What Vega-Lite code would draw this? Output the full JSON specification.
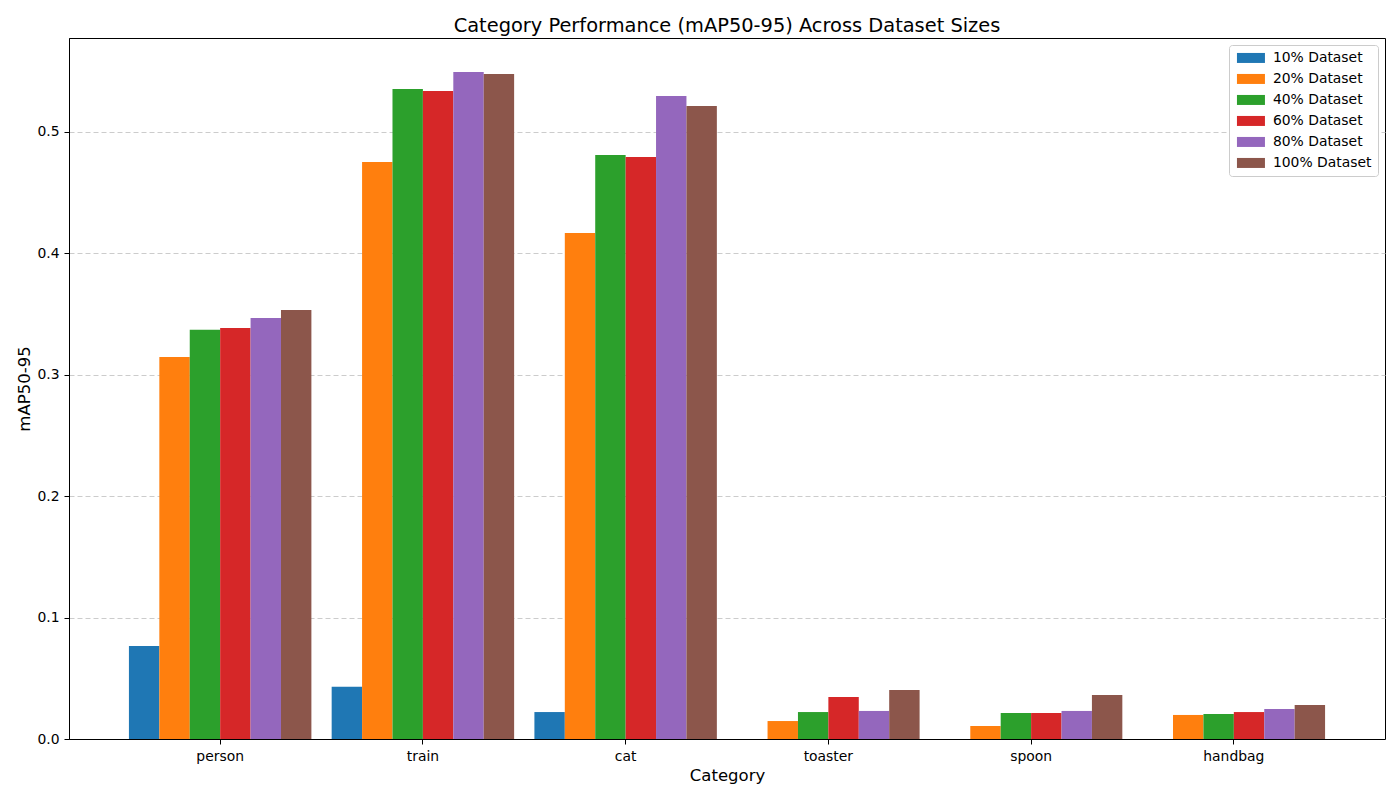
{
  "$schema": "https://vega.github.io/schema/vega-lite/v6.json",
  "width": 1316,
  "height": 701,
  "autosize": {"type": "none"},
  "padding": {"left": 69, "top": 38, "right": 15, "bottom": 61},
  "background": "white",
  "title": {
    "text": "Category Performance (mAP50-95) Across Dataset Sizes",
    "font": "DejaVu Sans",
    "fontSize": 19.4,
    "fontWeight": "normal",
    "color": "black",
    "offset": 2
  },
  "config": {
    "font": "DejaVu Sans",
    "view": {"stroke": "black", "strokeWidth": 1}
  },
  "data": {
    "values": [
      {"category": "person", "dataset": "10% Dataset", "map": 0.0766},
      {"category": "person", "dataset": "20% Dataset", "map": 0.3147},
      {"category": "person", "dataset": "40% Dataset", "map": 0.3370},
      {"category": "person", "dataset": "60% Dataset", "map": 0.3386},
      {"category": "person", "dataset": "80% Dataset", "map": 0.3468},
      {"category": "person", "dataset": "100% Dataset", "map": 0.3534},
      {"category": "train", "dataset": "10% Dataset", "map": 0.0430},
      {"category": "train", "dataset": "20% Dataset", "map": 0.4753},
      {"category": "train", "dataset": "40% Dataset", "map": 0.5354},
      {"category": "train", "dataset": "60% Dataset", "map": 0.5338},
      {"category": "train", "dataset": "80% Dataset", "map": 0.5494},
      {"category": "train", "dataset": "100% Dataset", "map": 0.5478},
      {"category": "cat", "dataset": "10% Dataset", "map": 0.0222},
      {"category": "cat", "dataset": "20% Dataset", "map": 0.4168},
      {"category": "cat", "dataset": "40% Dataset", "map": 0.4810},
      {"category": "cat", "dataset": "60% Dataset", "map": 0.4794},
      {"category": "cat", "dataset": "80% Dataset", "map": 0.5297},
      {"category": "cat", "dataset": "100% Dataset", "map": 0.5214},
      {"category": "toaster", "dataset": "10% Dataset", "map": 0.0},
      {"category": "toaster", "dataset": "20% Dataset", "map": 0.0148},
      {"category": "toaster", "dataset": "40% Dataset", "map": 0.0222},
      {"category": "toaster", "dataset": "60% Dataset", "map": 0.0346},
      {"category": "toaster", "dataset": "80% Dataset", "map": 0.0231},
      {"category": "toaster", "dataset": "100% Dataset", "map": 0.0404},
      {"category": "spoon", "dataset": "10% Dataset", "map": 0.0},
      {"category": "spoon", "dataset": "20% Dataset", "map": 0.0107},
      {"category": "spoon", "dataset": "40% Dataset", "map": 0.0214},
      {"category": "spoon", "dataset": "60% Dataset", "map": 0.0214},
      {"category": "spoon", "dataset": "80% Dataset", "map": 0.0231},
      {"category": "spoon", "dataset": "100% Dataset", "map": 0.0362},
      {"category": "handbag", "dataset": "10% Dataset", "map": 0.0},
      {"category": "handbag", "dataset": "20% Dataset", "map": 0.0198},
      {"category": "handbag", "dataset": "40% Dataset", "map": 0.0206},
      {"category": "handbag", "dataset": "60% Dataset", "map": 0.0222},
      {"category": "handbag", "dataset": "80% Dataset", "map": 0.0247},
      {"category": "handbag", "dataset": "100% Dataset", "map": 0.0280}
    ]
  },
  "mark": {"type": "bar"},
  "encoding": {
    "x": {
      "field": "category",
      "type": "nominal",
      "sort": ["person", "train", "cat", "toaster", "spoon", "handbag"],
      "scale": {"paddingInner": 0.1, "paddingOuter": 0.2956},
      "title": "Category",
      "axis": {
        "labelAngle": 0,
        "labelFontSize": 13.9,
        "labelColor": "black",
        "labelPadding": 5,
        "tickSize": 5,
        "tickColor": "black",
        "domainColor": "black",
        "titleFontSize": 16.5,
        "titleFontWeight": "normal",
        "titleColor": "black",
        "titlePadding": 5,
        "grid": false
      }
    },
    "xOffset": {
      "field": "dataset",
      "type": "nominal",
      "sort": ["10% Dataset", "20% Dataset", "40% Dataset", "60% Dataset", "80% Dataset", "100% Dataset"],
      "scale": {"paddingInner": 0, "paddingOuter": 0}
    },
    "y": {
      "field": "map",
      "type": "quantitative",
      "title": "mAP50-95",
      "scale": {"domain": [0, 0.5774], "nice": false, "zero": true},
      "axis": {
        "values": [0, 0.1, 0.2, 0.3, 0.4, 0.5],
        "format": ".1f",
        "labelFontSize": 13.9,
        "labelColor": "black",
        "labelPadding": 5,
        "tickSize": 5,
        "tickColor": "black",
        "domainColor": "black",
        "grid": true,
        "gridColor": "#cccccc",
        "gridDash": [5, 3],
        "gridWidth": 1,
        "titleFontSize": 16.5,
        "titleFontWeight": "normal",
        "titleColor": "black",
        "titlePadding": 4
      }
    },
    "color": {
      "field": "dataset",
      "type": "nominal",
      "sort": ["10% Dataset", "20% Dataset", "40% Dataset", "60% Dataset", "80% Dataset", "100% Dataset"],
      "scale": {
        "domain": ["10% Dataset", "20% Dataset", "40% Dataset", "60% Dataset", "80% Dataset", "100% Dataset"],
        "range": ["#1f77b4", "#ff7f0e", "#2ca02c", "#d62728", "#9467bd", "#8c564b"]
      },
      "legend": {
        "title": null,
        "orient": "none",
        "legendX": 1160,
        "legendY": 7,
        "fillColor": "white",
        "strokeColor": "#cccccc",
        "cornerRadius": 3,
        "padding": 6,
        "symbolType": "M-1,-1H4.6V1H-1Z",
        "symbolSize": 100,
        "symbolStrokeWidth": 0,
        "symbolOpacity": 1,
        "labelFontSize": 13.9,
        "labelColor": "black",
        "labelOffset": 24,
        "rowPadding": 6
      }
    }
  }
}
